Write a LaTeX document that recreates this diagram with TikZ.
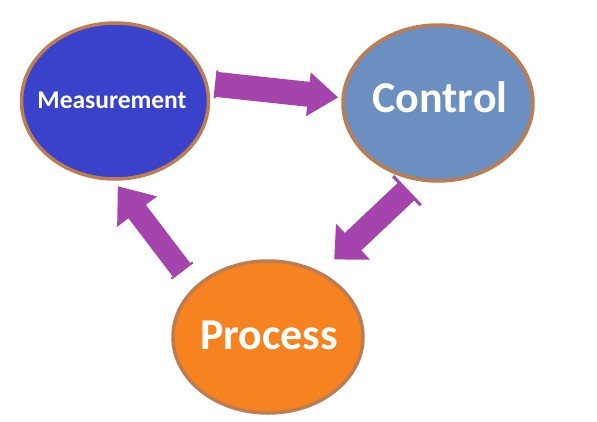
\documentclass[tikz,border=0pt]{standalone}
\usepackage{fontspec}
\setmainfont{Carlito}
\usetikzlibrary{shapes.geometric,arrows.meta}
\definecolor{mblue}{RGB}{58,66,204}
\definecolor{cblue}{RGB}{107,143,193}
\definecolor{porange}{RGB}{246,131,32}
\definecolor{rim}{RGB}{190,125,80}
\definecolor{flowc}{RGB}{164,68,172}
\tikzset{
  blob/.style={ellipse, draw=rim, line width=3.5pt, inner sep=0pt, outer sep=0pt},
  lbl/.style={text=white, font=\bfseries, inner sep=0pt},
  flow/.style={draw=flowc, line width=24pt, line cap=butt,
    -{Triangle[width=46pt,length=28pt]}},
}
\begin{document}
\begin{tikzpicture}[x=1pt,y=-1pt]
\useasboundingbox[fill=white] (0,0) rectangle (597,421);
\node[blob, fill=mblue, minimum width=187pt, minimum height=156pt] (m) at (115,101) {};
\node[blob, fill=cblue, minimum width=190pt, minimum height=156pt] (c) at (438,103) {};
\node[blob, fill=porange, minimum width=190pt, minimum height=152pt] (p) at (268,337) {};
\node[lbl, font=\bfseries\fontsize{25.5}{25.5}\selectfont] (mt) at (112,100) {Measurement};
\node[lbl, font=\bfseries\fontsize{44}{44}\selectfont] (ct) at (440,97) {Control};
\node[lbl, font=\bfseries\fontsize{44}{44}\selectfont] (pt) at (269,335) {Process};
\draw[flow, line width=25pt, {Rectangle[width=28pt,length=2pt]}-{Triangle[width=42pt,length=30pt]}, shorten <=9pt, shorten >=5pt] (m.11.6) -- (c.177);
\draw[flow, {Rectangle[width=40pt,length=3pt]}-{Triangle[width=48pt,length=26pt]}, shorten <=15pt, shorten >=20pt] (c.256.4) -- (p.51.3);
\draw[flow, line width=22pt, {Rectangle[width=27pt,length=2pt]}-{Triangle[width=48pt,length=32pt]}, shorten <=21pt, shorten >=9pt] (p.146.6) -- (m.268);
\end{tikzpicture}
\end{document}
